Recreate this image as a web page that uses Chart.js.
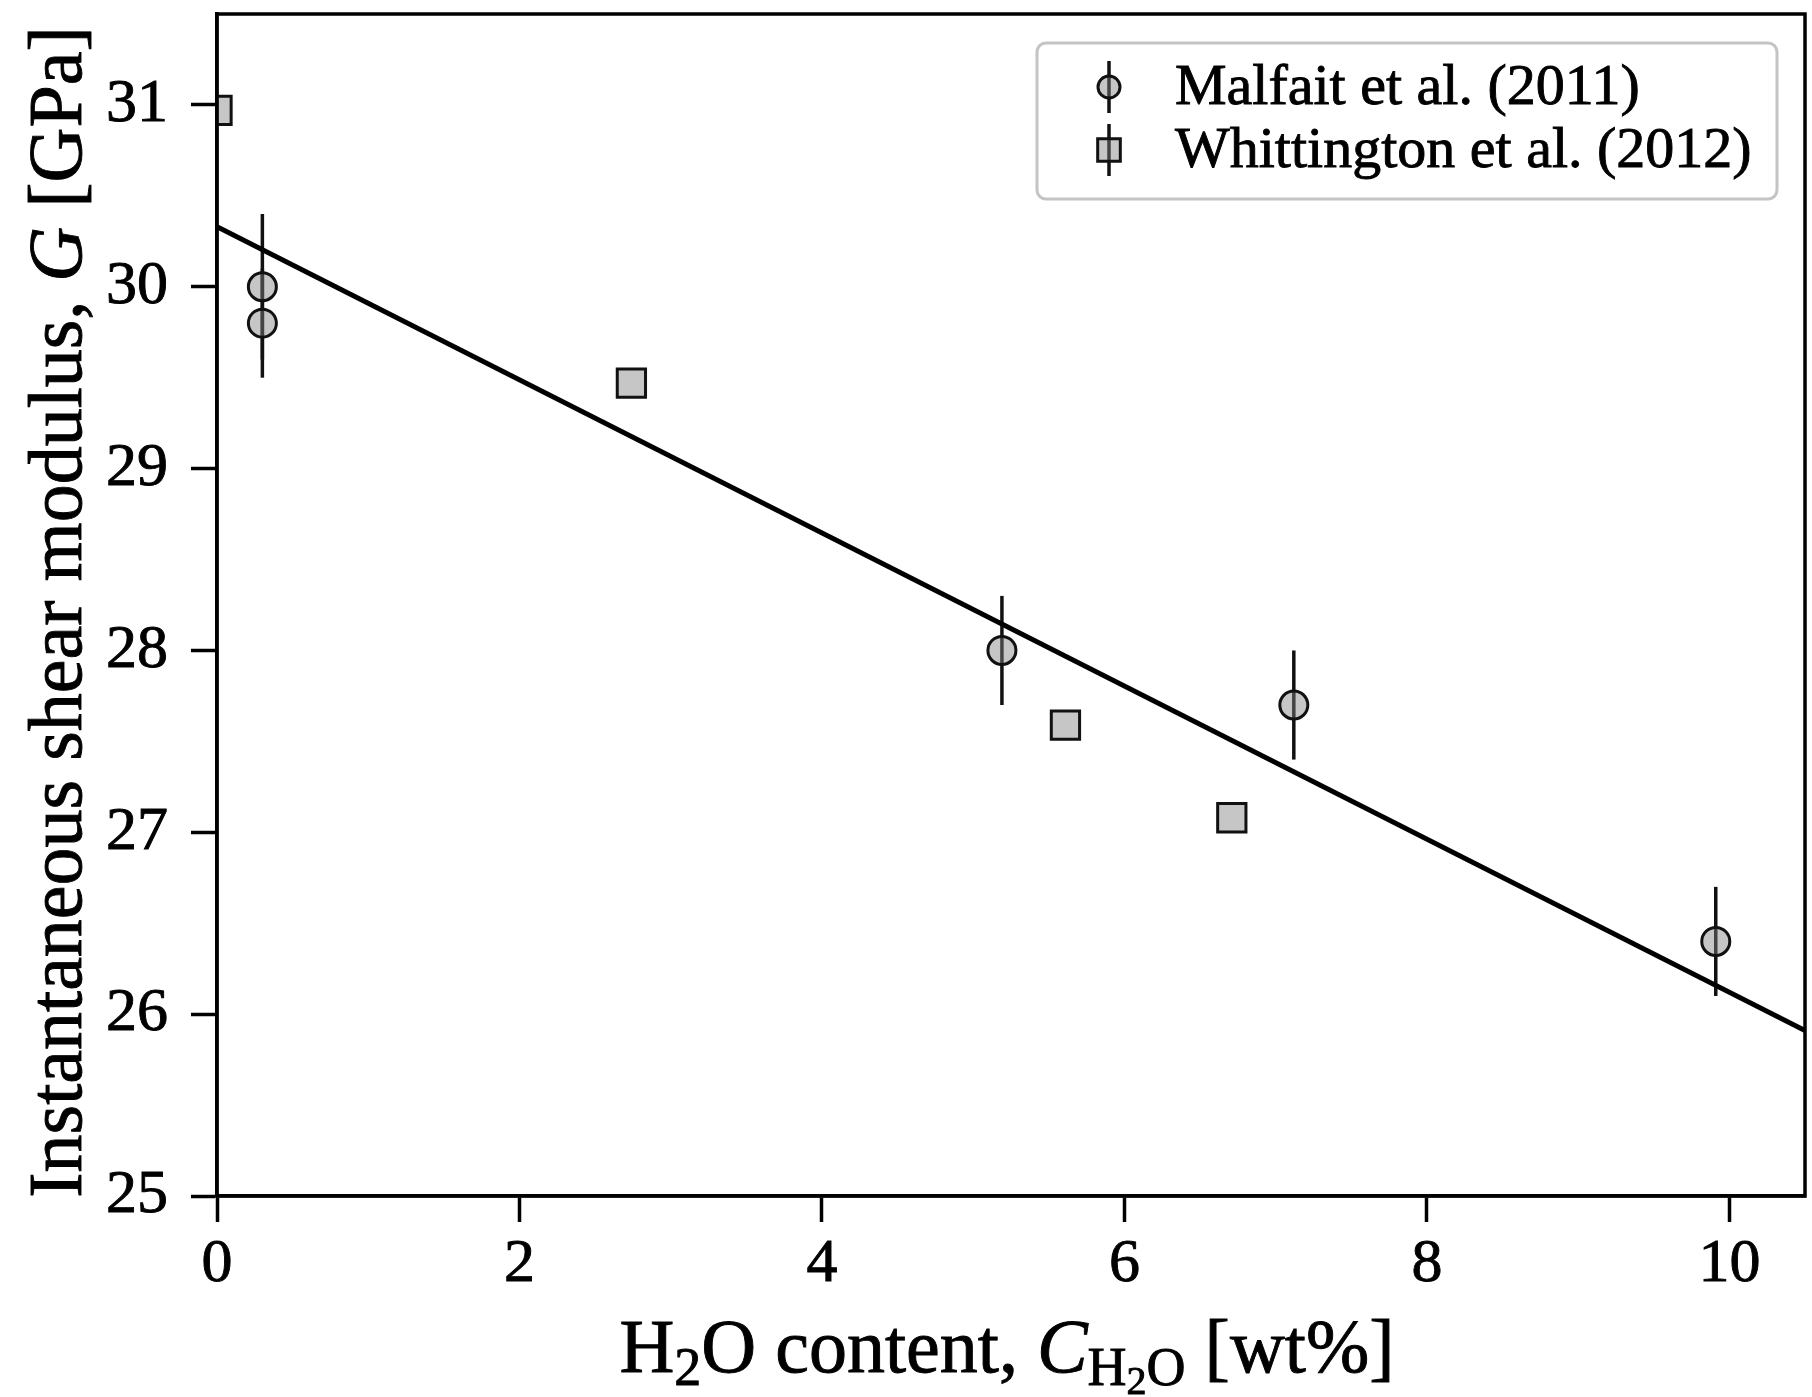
<!DOCTYPE html>
<html>
<head>
<meta charset="utf-8">
<title>Shear modulus vs water content</title>
<script src="https://cdn.jsdelivr.net/npm/chart.js@4.4.1/dist/chart.umd.min.js"></script>
<style>
  html, body { margin: 0; padding: 0; background: #fff; }
  #wrap { width: 1812px; height: 1397px; }
</style>
</head>
<body>
<div id="wrap"><canvas id="shearChart" width="1812" height="1397"></canvas></div>
<script>
// Malfait et al. (2011): water content [wt%], G [GPa], 1-sigma error
const malfaitX = [0.3, 0.3, 5.19, 7.12, 9.91];
const malfaitG = [30.0, 29.8, 28.0, 27.7, 26.4];
const malfaitErr = [0.4, 0.3, 0.3, 0.3, 0.3];

// Whittington et al. (2012)
const whittX = [0.0, 2.74, 5.61, 6.71];
const whittG = [30.97, 29.47, 27.59, 27.08];

// linear fit, evaluated at the axis limits
const fitX = [0, 10.5];
const fitG = [30.33, 25.91];

const xTicks = [0, 2, 4, 6, 8, 10];
const yTicks = [25, 26, 27, 28, 29, 30, 31];
const seriesLabels = ['Malfait et al. (2011)', 'Whittington et al. (2012)'];

const serif = '"Liberation Serif", "Times New Roman", serif';
const markerFill = 'rgba(128, 128, 128, 0.45)';
const ink = '#111';
const textStroke = 0.9;

const toPoints = (xs, ys) => xs.map((x, i) => ({ x: x, y: ys[i] }));

// vertical error bars, drawn under the markers
const errorBars = {
  id: 'errorBars',
  beforeDatasetsDraw(chart) {
    const { ctx, chartArea, scales: { x, y } } = chart;
    ctx.save();
    ctx.beginPath();
    ctx.rect(chartArea.left, chartArea.top, chartArea.right - chartArea.left, chartArea.bottom - chartArea.top);
    ctx.clip();
    ctx.strokeStyle = ink;
    ctx.lineWidth = 3.5;
    chart.data.datasets.forEach(ds => {
      if (!ds.errors) return;
      ds.data.forEach((p, i) => {
        const px = x.getPixelForValue(p.x);
        ctx.beginPath();
        ctx.moveTo(px, y.getPixelForValue(p.y - ds.errors[i]));
        ctx.lineTo(px, y.getPixelForValue(p.y + ds.errors[i]));
        ctx.stroke();
      });
    });
    ctx.restore();
  }
};

// closed box around the plot area
const frame = {
  id: 'frame',
  afterDraw(chart) {
    const { ctx, chartArea: a } = chart;
    ctx.save();
    ctx.strokeStyle = '#000';
    ctx.lineWidth = 3.5;
    ctx.strokeRect(a.left, a.top, a.right - a.left, a.bottom - a.top);
    ctx.restore();
  }
};

function fontOf(p) {
  return (p.italic ? 'italic ' : '') + p.size + 'px ' + serif;
}

// draws a run of text pieces (subscripts via dy), centred on cx
function drawRich(ctx, parts, cx, baseline) {
  let total = 0;
  parts.forEach(p => {
    ctx.font = fontOf(p);
    p.w = ctx.measureText(p.t).width;
    total += p.w;
  });
  let x = cx - total / 2;
  ctx.lineWidth = textStroke;
  ctx.strokeStyle = '#000';
  parts.forEach(p => {
    ctx.font = fontOf(p);
    ctx.fillText(p.t, x, baseline + (p.dy || 0));
    ctx.strokeText(p.t, x, baseline + (p.dy || 0));
    x += p.w;
  });
}

const axisTitles = {
  id: 'axisTitles',
  afterDraw(chart) {
    const { ctx, chartArea: a } = chart;
    ctx.save();
    ctx.fillStyle = '#000';
    ctx.textBaseline = 'alphabetic';
    ctx.textAlign = 'left';

    const big = 76, sub = 54, subsub = 40;
    drawRich(ctx, [
      { t: 'H', size: big },
      { t: '2', size: sub, dy: 13 },
      { t: 'O content, ', size: big },
      { t: 'C', size: big, italic: true },
      { t: 'H', size: sub, dy: 13 },
      { t: '2', size: subsub, dy: 22 },
      { t: 'O', size: sub, dy: 13 },
      { t: ' [wt%]', size: big }
    ], (a.left + a.right) / 2 - 4, 1372);

    ctx.translate(81, (a.top + a.bottom) / 2 + 7);
    ctx.rotate(-Math.PI / 2);
    drawRich(ctx, [
      { t: 'Instantaneous shear modulus, ', size: big },
      { t: 'G', size: big, italic: true },
      { t: ' [GPa]', size: big }
    ], 0, 0);
    ctx.restore();
  }
};

// legend in the upper right corner, marker with its error bar
const legendBox = {
  id: 'legendBox',
  afterDraw(chart) {
    const { ctx, chartArea: a } = chart;
    const right = a.right - 28, top = a.top + 29;
    const w = 740, h = 156;
    ctx.save();
    ctx.beginPath();
    ctx.roundRect(right - w, top, w, h, 9);
    ctx.fillStyle = 'rgba(255,255,255,0.8)';
    ctx.fill();
    ctx.strokeStyle = '#c4c4c4';
    ctx.lineWidth = 3;
    ctx.stroke();

    const rows = [
      { ds: chart.data.datasets[0], radius: 11 },
      { ds: chart.data.datasets[1], radius: 16 }
    ];
    const mx = right - w + 72;
    rows.forEach((r, i) => {
      const my = top + 44 + i * 63;
      ctx.strokeStyle = ink;
      ctx.lineWidth = 3.5;
      ctx.beginPath();
      ctx.moveTo(mx, my - 26);
      ctx.lineTo(mx, my + 26);
      ctx.stroke();
      ctx.fillStyle = r.ds.backgroundColor;
      ctx.strokeStyle = r.ds.borderColor;
      ctx.lineWidth = r.ds.borderWidth;
      Chart.helpers.drawPoint(ctx, {
        pointStyle: r.ds.pointStyle, radius: r.radius, rotation: 0, borderWidth: r.ds.borderWidth
      }, mx, my);
      ctx.fillStyle = '#000';
      ctx.strokeStyle = '#000';
      ctx.lineWidth = textStroke;
      ctx.font = '58px ' + serif;
      ctx.textBaseline = 'middle';
      ctx.fillText(r.ds.label, mx + 66, my + 2);
      ctx.strokeText(r.ds.label, mx + 66, my + 2);
    });
    ctx.restore();
  }
};

const tickFont = { family: serif, size: 62 };

const ctx = document.getElementById('shearChart').getContext('2d');
new Chart(ctx, {
  type: 'scatter',
  data: {
    datasets: [
      {
        label: seriesLabels[0],
        data: toPoints(malfaitX, malfaitG),
        errors: malfaitErr,
        pointStyle: 'circle',
        pointRadius: 14,
        backgroundColor: markerFill,
        borderColor: ink,
        borderWidth: 3,
        clip: 0
      },
      {
        label: seriesLabels[1],
        data: toPoints(whittX, whittG),
        pointStyle: 'rect',
        pointRadius: 20,
        backgroundColor: markerFill,
        borderColor: ink,
        borderWidth: 3,
        clip: 0
      },
      {
        label: 'fit',
        type: 'line',
        data: toPoints(fitX, fitG),
        borderColor: '#000',
        borderWidth: 5,
        pointRadius: 0,
        fill: false,
        clip: 0
      }
    ]
  },
  options: {
    responsive: false,
    animation: false,
    layout: { autoPadding: false, padding: { top: 14, right: 7, left: 0, bottom: 0 } },
    plugins: {
      legend: { display: false },
      tooltip: { enabled: false }
    },
    scales: {
      x: {
        type: 'linear',
        min: 0,
        max: 10.5,
        afterBuildTicks: s => { s.ticks = xTicks.map(v => ({ value: v })); },
        afterFit: s => { s.height = 201; s.paddingLeft = 0; s.paddingRight = 0; },
        grid: { drawOnChartArea: false, tickLength: 26, tickWidth: 3.5, tickColor: '#000' },
        border: { color: '#000', width: 3.5 },
        ticks: { font: tickFont, color: '#000', padding: 6, maxRotation: 0, textStrokeColor: '#000', textStrokeWidth: textStroke }
      },
      y: {
        type: 'linear',
        min: 25,
        max: 31.5,
        afterBuildTicks: s => { s.ticks = yTicks.map(v => ({ value: v })); },
        afterFit: s => { s.width = 217; s.paddingTop = 0; s.paddingBottom = 0; },
        grid: { drawOnChartArea: false, tickLength: 26, tickWidth: 3.5, tickColor: '#000' },
        border: { color: '#000', width: 3.5 },
        ticks: { font: tickFont, color: '#000', padding: 23, textStrokeColor: '#000', textStrokeWidth: textStroke }
      }
    }
  },
  plugins: [errorBars, frame, axisTitles, legendBox]
});
</script>
</body>
</html>
